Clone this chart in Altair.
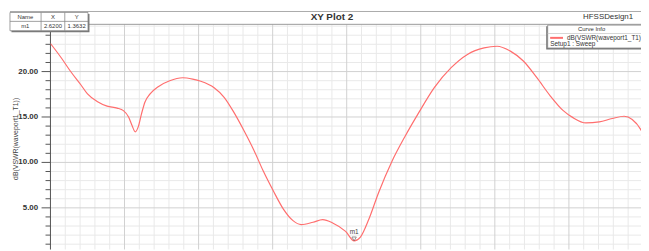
import altair as alt
import pandas as pd

# ---- data (frequency in GHz, dB(VSWR)) ----
freq_ghz = [1.800, 1.829, 1.855, 1.882, 1.900, 1.926, 1.953, 1.980, 1.997, 2.011,
            2.020, 2.029, 2.037, 2.046, 2.055, 2.069, 2.091, 2.122, 2.157, 2.184,
            2.206, 2.242, 2.269, 2.295, 2.322, 2.349, 2.375, 2.402, 2.429, 2.455,
            2.477, 2.509, 2.535, 2.562, 2.597, 2.620, 2.637, 2.660, 2.686, 2.722,
            2.757, 2.793, 2.837, 2.882, 2.926, 2.971, 3.006, 3.042, 3.077, 3.113,
            3.149, 3.184, 3.211, 3.246, 3.282, 3.317, 3.349, 3.371, 3.395, 3.420]
vswr_db = [23.09, 21.52, 19.98, 18.55, 17.54, 16.71, 16.20, 15.98, 15.70, 15.00,
           14.10, 13.37, 13.91, 15.37, 16.63, 17.54, 18.34, 18.99, 19.32, 19.17,
           18.93, 18.22, 17.17, 15.54, 13.55, 11.38, 9.02, 6.85, 4.86, 3.59,
           3.15, 3.41, 3.70, 3.34, 2.41, 1.3632, 1.78, 3.77, 6.67, 10.11,
           12.83, 15.37, 18.26, 20.43, 21.89, 22.61, 22.79, 22.25, 21.16, 19.35,
           17.36, 15.73, 14.93, 14.35, 14.46, 14.83, 15.08, 14.72, 13.55, 11.00]

marker_name = ["m1"]
marker_x = [2.62]
marker_y = [1.3632]

y_major = [5, 10, 15, 20]
y_tick_labels = ["5.00", "10.00", "15.00", "20.00"]
y_minor = [1, 2, 3, 4, 6, 7, 8, 9, 11, 12, 13, 14, 16, 17, 18, 19, 21, 22, 23, 24, 25]
x_major = [1.8, 2.0, 2.2, 2.4, 2.6, 2.8, 3.0, 3.2]
x_minor = [round(1.8 + 0.04 * i, 2) for i in range(41) if i % 5 != 0]

y_title = "dB(VSWR(waveport1_T1))"
table_header = ["Name", "X", "Y"]
table_row = ["m1", "2.6200", "1.3632"]

FONT = "Liberation Sans"
CURVE_COLOR = "#ff6e6e"
MINOR_GRID = "#e9e9e9"
MAJOR_GRID = "#d0d0d0"
AXIS_COLOR = "#555"

df = pd.DataFrame({"Freq": freq_ghz, "dB": vswr_db})
mk = pd.DataFrame({"name": marker_name, "x": marker_x, "y": marker_y})
ylab = pd.DataFrame({"v": y_major, "label": y_tick_labels})

x_scale = alt.Scale(domain=[1.8, 3.3947], nice=False, zero=False)
y_scale = alt.Scale(domain=[0.417, 25.2], nice=False, zero=False)


def Y(field):
    return alt.Y(field, scale=y_scale, axis=None)


def X(field):
    return alt.X(field, scale=x_scale, axis=None)


def vgrid(vals, color):
    return alt.Chart(pd.DataFrame({"v": vals})).mark_rule(color=color, strokeWidth=1).encode(
        x=X("v:Q"))


def hgrid(vals, color):
    return alt.Chart(pd.DataFrame({"v": vals})).mark_rule(color=color, strokeWidth=1).encode(
        y=Y("v:Q"))


grid = [vgrid(x_minor, MINOR_GRID), hgrid(y_minor, MINOR_GRID),
        vgrid(x_major, MAJOR_GRID), hgrid(y_major, MAJOR_GRID)]

# y axis drawn from the tick arrays through the y scale
minor_ticks = alt.Chart(pd.DataFrame({"v": y_minor})).mark_rule(
    color=AXIS_COLOR, strokeWidth=1).encode(y=Y("v:Q"), x=alt.value(-5), x2=alt.value(0))
major_ticks = alt.Chart(ylab).mark_rule(
    color=AXIS_COLOR, strokeWidth=1).encode(y=Y("v:Q"), x=alt.value(-9), x2=alt.value(0))
tick_labels = alt.Chart(ylab).mark_text(
    font=FONT, fontSize=8, fontWeight="bold", color="#333", align="right", baseline="middle"
).encode(y=Y("v:Q"), x=alt.value(-12.5), text="label:N")
y_domain = alt.Chart().mark_rule(color=AXIS_COLOR, strokeWidth=1).encode(
    x=alt.value(0), y=alt.value(0), y2=alt.value(228))
y_title_txt = alt.Chart().mark_text(
    text=y_title, font=FONT, fontSize=7, color="#444", angle=270,
    align="center", baseline="middle"
).encode(x=alt.value(-35), y=alt.value(116))

curve = alt.Chart(df).mark_line(
    color=CURVE_COLOR, strokeWidth=1.2, interpolate="monotone", clip=True
).encode(x=X("Freq:Q"), y=Y("dB:Q"))

marker_pt = alt.Chart(mk).mark_point(
    shape="triangle-down", size=20, filled=False, color="#555", strokeWidth=0.9
).encode(x=X("x:Q"), y=Y("y:Q"), yOffset=alt.value(-2))
marker_lbl = alt.Chart(mk).mark_text(
    fontSize=6.5, color="#444", font=FONT, dy=-9
).encode(x=X("x:Q"), y=Y("y:Q"), text="name:N")

# frame lines
frame_top = alt.Chart().mark_rule(color="#aaa", strokeWidth=1).encode(
    x=alt.value(-41), x2=alt.value(600), y=alt.value(-13))
plot_top = alt.Chart().mark_rule(color="#999", strokeWidth=1).encode(
    x=alt.value(0), x2=alt.value(600), y=alt.value(0))

title_txt = alt.Chart().mark_text(
    text="XY Plot 2", fontSize=10, fontWeight="bold", color="#333", font=FONT,
    align="center", baseline="middle"
).encode(x=alt.value(285), y=alt.value(-7))
design_txt = alt.Chart().mark_text(
    text="HFSSDesign1", fontSize=8, color="#333", font=FONT,
    align="right", baseline="middle"
).encode(x=alt.value(590), y=alt.value(-7))

# marker table (top-left)
tbl_shadow = alt.Chart().mark_rect(fill="#777").encode(
    x=alt.value(-39.5), x2=alt.value(39.5), y=alt.value(-10.5), y2=alt.value(8))
tbl_box = alt.Chart().mark_rect(fill="white", stroke="#888", strokeWidth=0.8).encode(
    x=alt.value(-41), x2=alt.value(38), y=alt.value(-12), y2=alt.value(6.5))
tbl_hline = alt.Chart().mark_rule(color="#888", strokeWidth=0.8).encode(
    x=alt.value(-41), x2=alt.value(38), y=alt.value(-3))
tbl_v1 = alt.Chart().mark_rule(color="#888", strokeWidth=0.8).encode(
    x=alt.value(-9.5), y=alt.value(-12), y2=alt.value(6.5))
tbl_v2 = alt.Chart().mark_rule(color="#888", strokeWidth=0.8).encode(
    x=alt.value(14.5), y=alt.value(-12), y2=alt.value(6.5))
col_centers = [-25.5, 2.5, 26.5]
tbl_texts = []
for i in range(3):
    tbl_texts.append(alt.Chart().mark_text(
        text=table_header[i], fontSize=6, color="#333", font=FONT,
        align="center", baseline="middle").encode(
        x=alt.value(col_centers[i]), y=alt.value(-7.5)))
    tbl_texts.append(alt.Chart().mark_text(
        text=table_row[i], fontSize=6, color="#333", font=FONT,
        align="center", baseline="middle").encode(
        x=alt.value(col_centers[i]), y=alt.value(1.8)))

# curve info legend (top-right)
leg_shadow = alt.Chart().mark_rect(fill="#777").encode(
    x=alt.value(502), x2=alt.value(640), y=alt.value(2), y2=alt.value(25.5))
leg_box = alt.Chart().mark_rect(fill="white", stroke="#888", strokeWidth=0.8).encode(
    x=alt.value(503.5), x2=alt.value(640), y=alt.value(0.8), y2=alt.value(24))
leg_sep = alt.Chart().mark_rule(color="#ccc", strokeWidth=0.8).encode(
    x=alt.value(503.5), x2=alt.value(640), y=alt.value(9.3))
leg_title = alt.Chart().mark_text(
    text="Curve Info", fontSize=6, color="#333", font=FONT,
    align="center", baseline="middle").encode(x=alt.value(548), y=alt.value(5))
leg_line = alt.Chart().mark_rule(color=CURVE_COLOR, strokeWidth=2).encode(
    x=alt.value(506), x2=alt.value(519), y=alt.value(13.7))
leg_item = alt.Chart().mark_text(
    text="dB(VSWR(waveport1_T1))", fontSize=6.5, color="#333", font=FONT,
    align="left", baseline="middle").encode(x=alt.value(523), y=alt.value(13.7))
leg_setup = alt.Chart().mark_text(
    text="Setup1 : Sweep", fontSize=6.5, color="#333", font=FONT,
    align="left", baseline="middle").encode(x=alt.value(506), y=alt.value(20))

chart = alt.layer(
    *grid, minor_ticks, major_ticks, tick_labels, y_domain, y_title_txt,
    curve, marker_pt, marker_lbl, frame_top, plot_top,
    title_txt, design_txt,
    tbl_shadow, tbl_box, tbl_hline, tbl_v1, tbl_v2, *tbl_texts,
    leg_shadow, leg_box, leg_sep, leg_title, leg_line, leg_item, leg_setup,
).properties(
    width=598, height=228,
    autosize=alt.AutoSizeParams(type="none"),
    padding={"left": 43, "top": 15, "right": 0, "bottom": 0},
    background="white",
).configure_view(stroke=None)

chart.save("out.html", embed_options={"renderer": "svg", "actions": False})
